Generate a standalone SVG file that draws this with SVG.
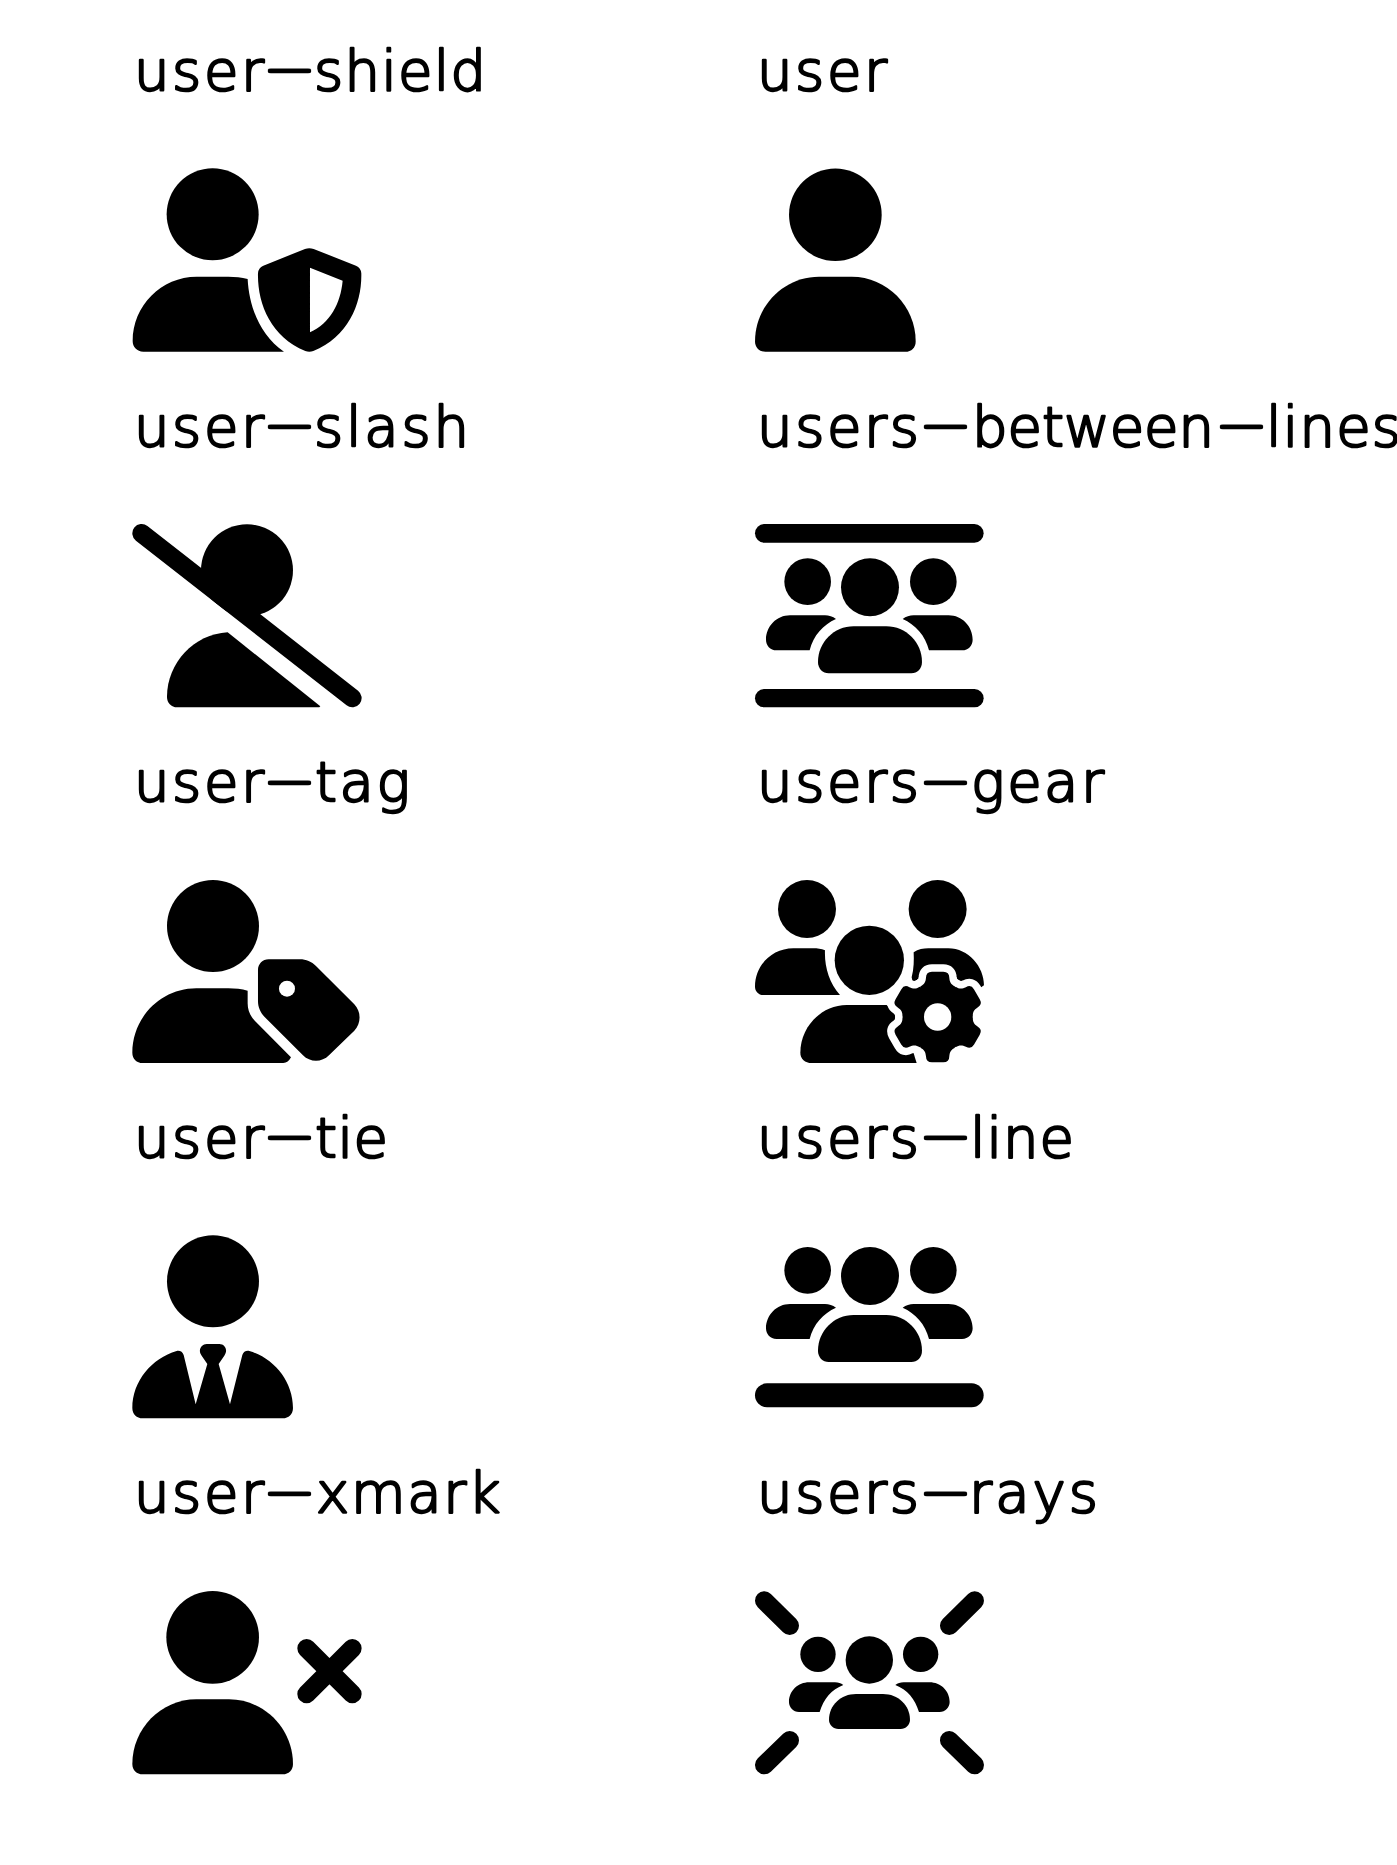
<svg xmlns="http://www.w3.org/2000/svg" width="1397" height="1865" viewBox="0 0 1397 1865">
<style>
text{font-family:"DejaVu Sans",sans-serif;font-size:56px;font-weight:200;fill:#000;stroke:#000;stroke-width:2.4px;stroke-linejoin:round}
.ray{stroke:#000;stroke-width:56;stroke-linecap:round;fill:none}
.cut{fill:#fff}
.halo{fill:#fff;stroke:#fff;stroke-width:44;stroke-linejoin:round}
</style>
<defs>
<clipPath id="above-slash"><path d="M48 122L680 616H900V0H48Z"/></clipPath>
<g id="person">
<circle cx="278" cy="202" r="139"/>
<path d="M68 613C50 613 37 600 37 582C37 476 123 388 229 388H327C433 388 519 476 519 582C519 600 506 613 488 613Z"/>
</g>
<g id="side-body">
<path d="M140 357C120 357 108 342 108 325C108 285 140 252 180 252H285C297 252 308 256 318 263C280 280 250 312 239 357Z"/>
</g>
<g id="trio">
<circle cx="233" cy="151" r="70"/><circle cx="420" cy="168" r="87"/><circle cx="610" cy="151" r="70"/>
<use href="#side-body"/>
<use href="#side-body" transform="translate(836 0) scale(-1 1)"/>
<path d="M296 426C278 426 264 412 264 392C264 333 312 285 371 285H469C528 285 576 333 576 392C576 412 562 426 544 426Z"/>
</g>
<g id="small-body">
<path d="M207 426C190 426 177 412 177 396C177 362 205 337 237 337H315C325 337 333 340 340 345C305 358 280 388 269 426Z"/>
</g>
<path id="tooth" d="M0 0L-52 -92C-40 -98 -36 -105 -35 -118Q-35 -136 -17 -136H17Q35 -136 35 -118C36 -105 40 -98 52 -92Z"/>
<g id="gear">
<circle r="104"/>
<use href="#tooth"/><use href="#tooth" transform="rotate(60)"/><use href="#tooth" transform="rotate(120)"/><use href="#tooth" transform="rotate(180)"/><use href="#tooth" transform="rotate(240)"/><use href="#tooth" transform="rotate(300)"/>
</g>
</defs>
<rect width="1397" height="1865" fill="#fff"/>
<g id="connectors"/>

<g id="user-shield-node">
<text y="90"><tspan x="134" textLength="130">user</tspan><tspan x="264" dy="-3.6" textLength="51" lengthAdjust="spacingAndGlyphs">-</tspan><tspan x="314" dy="3.6" textLength="172">shield</tspan></text>
<g transform="translate(100 20) scale(.3333)">
<circle cx="338" cy="583" r="138"/>
<path d="M130 995C111 995 98 981 98 963C98 857 184 770 290 770H385C405 770 425 772 443 777C447 860 480 945 552 995Z"/>
<path fill-rule="evenodd" d="M615 687Q628 682 641 687L768 737Q783 743 784 760C786 850 745 950 640 993Q628 998 616 993C512 950 472 850 474 760Q475 743 490 737ZM630 743V937C690 910 722 850 728 782Z"/>
</g>
</g>

<g id="user-node">
<text x="757" y="90" textLength="130">user</text>
<g transform="translate(742.7 147.4) scale(.3333)"><use href="#person"/></g>
</g>

<g id="user-slash-node">
<text y="445.6"><tspan x="134" textLength="130">user</tspan><tspan x="264" dy="-3.6" textLength="51" lengthAdjust="spacingAndGlyphs">-</tspan><tspan x="314" dy="3.6" textLength="155">slash</tspan></text>
<g transform="translate(120 500) scale(.3333)">
<circle cx="381" cy="211" r="138" clip-path="url(#above-slash)"/>
<path class="ray" d="M65 100L697 594"/>
<path d="M172 622C153 622 141 608 141 590C141 490 222 402 323 397L601 619L598 622Z"/>
</g>
</g>

<g id="users-between-lines-node">
<text y="445.6"><tspan x="757" textLength="162">users</tspan><tspan x="920" dy="-3.6" textLength="51" lengthAdjust="spacingAndGlyphs">-</tspan><tspan x="972" dy="3.6" textLength="242">between</tspan><tspan x="1216" dy="-3.6" textLength="51" lengthAdjust="spacingAndGlyphs">-</tspan><tspan x="1266" dy="3.6" textLength="135">lines</tspan></text>
<g transform="translate(730 500) scale(.3333)">
<rect x="75" y="72" width="686" height="56" rx="28"/>
<rect x="75" y="567" width="686" height="55" rx="27.5"/>
<use href="#trio" transform="translate(0 94)"/>
</g>
</g>

<g id="user-tag-node">
<text y="801.2"><tspan x="134" textLength="130">user</tspan><tspan x="264" dy="-3.6" textLength="51" lengthAdjust="spacingAndGlyphs">-</tspan><tspan x="315" dy="3.6" textLength="95">tag</tspan></text>
<g transform="translate(120 860) scale(.3333)">
<circle cx="279" cy="198" r="138"/>
<path d="M68 609C50 609 37 596 37 578C37 472 123 385 229 385H325C345 385 365 387 383 392V430C383 450 390 468 405 483L513 592C507 604 500 609 490 609Z"/>
<path d="M414 330C414 312 428 298 446 298H540C558 298 575 305 588 318L703 433C724 455 724 490 703 512L627 586C606 608 570 608 549 586L434 471C421 458 414 441 414 423Z"/>
<circle class="cut" cx="501" cy="386" r="24"/>
</g>
</g>

<g id="users-gear-node">
<text y="801.2"><tspan x="757" textLength="162">users</tspan><tspan x="920" dy="-3.6" textLength="51" lengthAdjust="spacingAndGlyphs">-</tspan><tspan x="971" dy="3.6" textLength="133">gear</tspan></text>
<g transform="translate(730 860) scale(.3333)">
<circle cx="231" cy="147" r="87"/><circle cx="623" cy="147" r="87"/><circle cx="418" cy="301" r="104"/>
<path d="M100 405C85 405 75 393 75 380C75 315 127 265 190 265H250C262 265 274 267 285 271C283 320 297 368 330 405Z"/>
<path d="M551 277C565 268 580 265 595 265H655C715 265 762 320 762 376L700 420H560L545 352C552 325 552 300 551 277Z"/>
<path d="M245 609C225 609 211 596 211 578C211 500 275 435 350 435H470L520 480L560 609Z"/>
<use href="#gear" class="halo" transform="translate(623 471)"/>
<use href="#gear" transform="translate(623 471)"/>
<circle class="cut" cx="623" cy="471" r="41"/>
</g>
</g>

<g id="user-tie-node">
<text y="1156.8"><tspan x="134" textLength="130">user</tspan><tspan x="264" dy="-3.6" textLength="51" lengthAdjust="spacingAndGlyphs">-</tspan><tspan x="315" dy="3.6" textLength="73">tie</tspan></text>
<g transform="translate(120 1220) scale(.3333)">
<circle cx="279" cy="184" r="138"/>
<path d="M68 595C50 595 37 582 37 564C37 484 95 415 170 393C180 391 188 396 191 405L227 553L262 432L245 407C232 390 245 372 260 372H298C315 372 325 390 313 407L296 432L330 553L367 405C370 396 378 391 388 393C462 415 519 484 519 564C519 582 506 595 488 595Z"/>
</g>
</g>

<g id="users-line-node">
<text y="1156.8"><tspan x="757" textLength="162">users</tspan><tspan x="920" dy="-3.6" textLength="51" lengthAdjust="spacingAndGlyphs">-</tspan><tspan x="970" dy="3.6" textLength="104">line</tspan></text>
<g transform="translate(730 1220) scale(.3333)">
<use href="#trio"/>
<rect x="75" y="490" width="686" height="72" rx="36"/>
</g>
</g>

<g id="user-xmark-node">
<text y="1512.4"><tspan x="134" textLength="130">user</tspan><tspan x="264" dy="-3.6" textLength="51" lengthAdjust="spacingAndGlyphs">-</tspan><tspan x="316" dy="3.6" textLength="184.5">xmark</tspan></text>
<g transform="translate(120 1570) scale(.3333)">
<use href="#person"/>
<path class="ray" d="M560 235L697 372M697 235L560 372"/>
</g>
</g>

<g id="users-rays-node">
<text y="1512.4"><tspan x="757" textLength="162">users</tspan><tspan x="920" dy="-3.6" textLength="51" lengthAdjust="spacingAndGlyphs">-</tspan><tspan x="969" dy="3.6" textLength="129">rays</tspan></text>
<g transform="translate(730 1570) scale(.3333)">
<path class="ray" d="M103 92L179 167M734 92L658 167M179 511L103 585M658 511L734 585"/>
<circle cx="264" cy="253" r="53"/><circle cx="418" cy="270" r="71"/><circle cx="572" cy="253" r="53"/>
<use href="#small-body"/>
<use href="#small-body" transform="translate(836 0) scale(-1 1)"/>
<path d="M325 477C310 477 297 464 297 450C297 405 333 372 378 372H459C504 372 540 405 540 450C540 464 527 477 512 477Z"/>
</g>
</g>
</svg>
